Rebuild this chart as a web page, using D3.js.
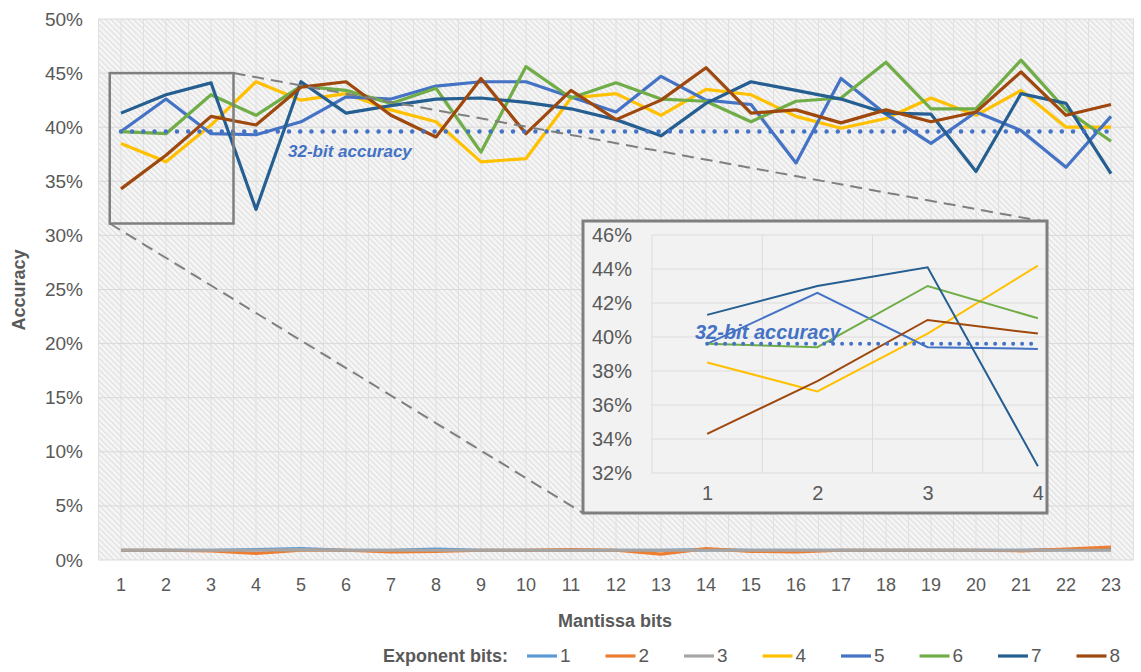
<!DOCTYPE html>
<html><head><meta charset="utf-8">
<script src="https://cdn.jsdelivr.net/npm/d3@7"></script>
<style>
body{margin:0;background:#fff;}
text{font-family:"Liberation Sans",Arial,sans-serif;}
</style></head>
<body><svg id="c" width="1141" height="672"></svg>
<script>
const categories = d3.range(1, 24);
const seriesNames = ["1","2","3","4","5","6","7","8"];
const colors = ["#5b9bd5","#ed7d31","#a5a5a5","#ffc000","#4472c4","#70ad47","#255e91","#9e480e"];
const exp1 = [0.9,0.9,0.9,0.95,1.05,0.9,0.9,1.0,0.9,0.9,0.9,0.9,0.9,0.95,0.9,0.9,0.9,0.9,0.9,0.9,0.9,0.95,0.95];
const exp2 = [0.9,0.9,0.85,0.6,0.9,0.9,0.75,0.8,0.9,0.9,0.95,0.9,0.55,1.05,0.8,0.75,0.9,0.9,0.9,0.9,0.85,1.0,1.2];
const exp3 = [0.9,0.9,0.9,0.9,0.95,0.9,0.9,0.9,0.9,0.9,0.9,0.9,0.9,0.9,0.9,0.9,0.9,0.9,0.9,0.9,0.9,0.9,0.9];
const exp4 = [38.5,36.8,40.2,44.2,42.5,43.1,41.6,40.5,36.8,37.1,42.7,43.1,41.1,43.5,43.0,41.0,39.9,40.8,42.7,41.1,43.4,40.0,40.0];
const exp5 = [39.6,42.6,39.4,39.3,40.5,42.8,42.6,43.8,44.2,44.2,42.8,41.4,44.7,42.5,42.1,36.7,44.5,41.2,38.5,41.4,39.7,36.3,41.0];
const exp6 = [39.6,39.4,43.0,41.1,43.8,43.4,42.2,43.6,37.7,45.6,42.7,44.1,42.6,42.4,40.5,42.4,42.7,46.0,41.7,41.7,46.2,41.6,38.7];
const exp7 = [41.3,43.0,44.1,32.4,44.2,41.3,42.0,42.6,42.7,42.3,41.7,40.7,39.2,42.2,44.2,43.4,42.6,41.3,41.2,35.9,43.1,42.2,35.7];
const exp8 = [34.3,37.4,41.0,40.2,43.7,44.2,41.1,39.1,44.5,39.4,43.4,40.7,42.5,45.5,41.3,41.6,40.4,41.6,40.5,41.4,45.1,41.1,42.1];
const baseline32 = 39.6;
const yTicks = [0,5,10,15,20,25,30,35,40,45,50];
const insetCats = [1,2,3,4];
const insetTicks = [32,34,36,38,40,42,44,46];
const zoomBox = {x0:0.75, x1:3.5, y0:31.1, y1:45.0};

const series = [exp1,exp2,exp3,exp4,exp5,exp6,exp7,exp8];
const svg = d3.select("#c");
const defs = svg.append("defs");
const pat = defs.append("pattern").attr("id","hatch").attr("patternUnits","userSpaceOnUse")
  .attr("width",4).attr("height",4).attr("patternTransform","rotate(-45)");
pat.append("rect").attr("width",4).attr("height",4).attr("fill","#f6f6f6");
pat.append("rect").attr("width",1.3).attr("height",4).attr("fill","#e0e0e0");

const L=98.5, R=1133.5, T=19, B=560;
const x = d3.scaleBand().domain(categories).range([L,R]);
const cx = c => x(c)+x.bandwidth()/2;
const xi = d3.scaleLinear().domain([1,23]).range([cx(1),cx(23)]);
const y = d3.scaleLinear().domain([0,50]).range([B,T]);

svg.append("rect").attr("x",L).attr("y",T).attr("width",R-L).attr("height",B-T).attr("fill","url(#hatch)");
const vg = d3.range(0.5, 23.6, 0.5);
svg.append("g").selectAll("line").data(vg).join("line")
  .attr("x1",d=>xi(d)).attr("x2",d=>xi(d)).attr("y1",T).attr("y2",B)
  .attr("stroke","#e0e0e0").attr("stroke-width",1);
svg.append("g").selectAll("line").data(yTicks).join("line")
  .attr("x1",L).attr("x2",R).attr("y1",d=>y(d)).attr("y2",d=>y(d))
  .attr("stroke","#d9d9d9").attr("stroke-width",1);

const yAxis = d3.axisLeft(y).tickValues(yTicks).tickFormat(d=>d+"%").tickSize(0).tickPadding(0);
const ya = svg.append("g").attr("transform","translate(83,0)").call(yAxis);
ya.select(".domain").remove();
ya.selectAll("text").attr("font-size",19).attr("fill","#595959").attr("font-family","Liberation Sans, Arial");
const xAxis = d3.axisBottom(x).tickSize(0).tickPadding(0);
const xa = svg.append("g").attr("transform","translate(0,578)").call(xAxis);
xa.select(".domain").remove();
xa.selectAll("text").attr("font-size",18).attr("fill","#595959").attr("dy","0.71em").attr("font-family","Liberation Sans, Arial");

svg.append("text").attr("x",615).attr("y",627).attr("text-anchor","middle").attr("font-size",18)
  .attr("font-weight","bold").attr("fill","#595959").text("Mantissa bits");
svg.append("text").attr("transform","translate(25,290) rotate(-90)").attr("text-anchor","middle")
  .attr("font-size",18).attr("font-weight","bold").attr("fill","#595959").text("Accuracy");

const line = d3.line().x((d,i)=>cx(categories[i])).y(d=>y(d));
svg.append("g").selectAll("path").data(series).join("path")
  .attr("d",d=>line(d)).attr("fill","none").attr("stroke",(d,i)=>colors[i])
  .attr("stroke-width",3.2).attr("stroke-linejoin","round");

svg.append("line").attr("x1",cx(1)).attr("x2",cx(23)).attr("y1",y(baseline32)).attr("y2",y(baseline32))
  .attr("stroke","#4472c4").attr("stroke-width",4.5).attr("stroke-linecap","round").attr("stroke-dasharray","0,11.2");
svg.append("text").attr("x",288).attr("y",157).attr("font-size",17).attr("font-weight","bold")
  .attr("font-style","italic").attr("fill","#4472c4").text("32-bit accuracy");

const bx0=xi(zoomBox.x0), bx1=xi(zoomBox.x1), by0=y(zoomBox.y1), by1=y(zoomBox.y0);
svg.append("rect").attr("x",bx0).attr("y",by0).attr("width",bx1-bx0).attr("height",by1-by0)
  .attr("fill","none").attr("stroke","#7f7f7f").attr("stroke-width",2.5);

const IL=583, IR=1047, IT=221, IB=513;
const ix = d3.scaleLinear().domain([0.5,4.5]).range([652,1093]);
const iy = d3.scaleLinear().domain([32,46]).range([473,235]);
svg.append("line").attr("x1",bx1).attr("y1",by0).attr("x2",IR-6).attr("y2",IT)
  .attr("stroke","#7f7f7f").attr("stroke-width",2).attr("stroke-dasharray","12,7");
svg.append("line").attr("x1",bx0).attr("y1",by1).attr("x2",IL).attr("y2",IB)
  .attr("stroke","#7f7f7f").attr("stroke-width",2).attr("stroke-dasharray","12,7");
svg.append("rect").attr("x",IL).attr("y",IT).attr("width",IR-IL).attr("height",IB-IT)
  .attr("fill","#f2f2f2").attr("stroke","#7f7f7f").attr("stroke-width",3);
defs.append("clipPath").attr("id","ic").append("rect").attr("x",650).attr("y",IT).attr("width",IR-2-650).attr("height",IB-IT);
const ig = svg.append("g");
ig.selectAll("line.h").data(insetTicks).join("line").attr("class","h")
  .attr("x1",652).attr("x2",IR-2).attr("y1",d=>iy(d)).attr("y2",d=>iy(d)).attr("stroke","#dcdcdc");
ig.selectAll("line.v").data([0.5,1.5,2.5,3.5]).join("line").attr("class","v")
  .attr("x1",d=>ix(d)).attr("x2",d=>ix(d)).attr("y1",iy(46)).attr("y2",iy(32)).attr("stroke","#dcdcdc");
const iya = svg.append("g").attr("transform","translate(632,0)")
  .call(d3.axisLeft(iy).tickValues(insetTicks).tickFormat(d=>d+"%").tickSize(0).tickPadding(0));
iya.select(".domain").remove();
iya.selectAll("text").attr("font-size",20).attr("fill","#595959").attr("font-family","Liberation Sans, Arial");
const ixa = svg.append("g").attr("transform","translate(0,486)")
  .call(d3.axisBottom(ix).tickValues(insetCats).tickFormat(d=>d).tickSize(0).tickPadding(0));
ixa.select(".domain").remove();
ixa.selectAll("text").attr("font-size",20).attr("fill","#595959").attr("dy","0.71em").attr("font-family","Liberation Sans, Arial");
const iline = d3.line().x((d,i)=>ix(insetCats[i])).y(d=>iy(d));
svg.append("g").attr("clip-path","url(#ic)").selectAll("path").data(series.slice(3)).join("path")
  .attr("d",d=>iline(d.slice(0,4))).attr("fill","none").attr("stroke",(d,i)=>colors[i+3]).attr("stroke-width",2);
svg.append("line").attr("x1",ix(1)).attr("x2",ix(4)).attr("y1",iy(baseline32)).attr("y2",iy(baseline32))
  .attr("stroke","#4472c4").attr("stroke-width",4).attr("stroke-linecap","round").attr("stroke-dasharray","0,9");
svg.append("text").attr("x",695).attr("y",339).attr("font-size",20).attr("font-weight","bold")
  .attr("font-style","italic").attr("fill","#4472c4").text("32-bit accuracy");

const lg = svg.append("g");
lg.append("text").attr("x",383).attr("y",662).attr("font-size",18).attr("font-weight","bold").attr("fill","#595959").text("Exponent bits:");
const lx0 = 527, lstep = 78.5;
seriesNames.forEach((n,i)=>{
  const gx = lx0 + i*lstep;
  lg.append("line").attr("x1",gx).attr("x2",gx+30).attr("y1",656).attr("y2",656).attr("stroke",colors[i]).attr("stroke-width",3.2);
  lg.append("text").attr("x",gx+33).attr("y",662).attr("font-size",19).attr("fill","#595959").text(n);
});
</script></body></html>
